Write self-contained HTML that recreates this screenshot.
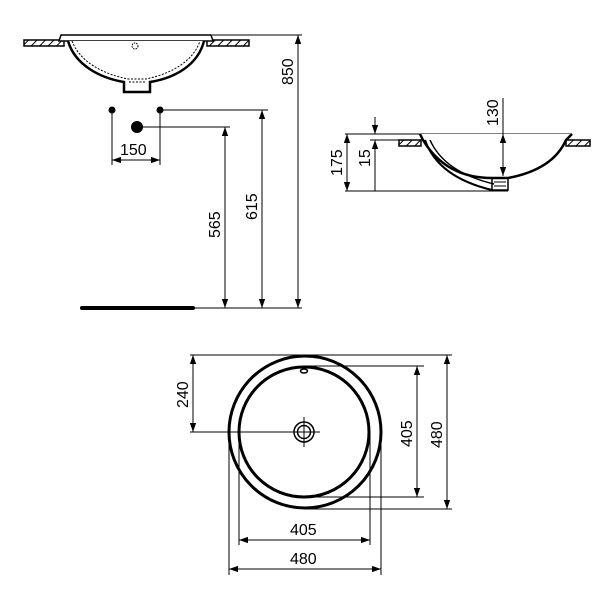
<!DOCTYPE html>
<html><head><style>body{margin:0;background:#fff}svg{display:block}text{font-family:"Liberation Sans",sans-serif;font-size:16px;fill:#000}</style></head><body>
<svg width="600" height="600" viewBox="0 0 600 600" xmlns="http://www.w3.org/2000/svg">
<defs>
<marker id="a" viewBox="0 0 10 10" refX="10" refY="5" markerWidth="9" markerHeight="9" orient="auto-start-reverse" markerUnits="userSpaceOnUse"><path d="M0,1.5 L10,5 L0,8.5z" fill="#000"/></marker>
<pattern id="h" width="6" height="6" patternUnits="userSpaceOnUse" patternTransform="rotate(45)"><rect width="6" height="6" fill="#fff"/><line x1="0" y1="0" x2="0" y2="6" stroke="#000" stroke-width="2"/></pattern>
</defs>
<g stroke="#000" fill="none" stroke-width="1">
<!-- top-left front view -->
<rect x="24" y="40" width="40" height="6" fill="url(#h)" stroke-width="1.5"/>
<rect x="207" y="40" width="42" height="6" fill="url(#h)" stroke-width="1.5"/>
<path d="M59,41 L61,35 L211,35 L213,41 Z" stroke-width="1.5" fill="#fff"/>
<path d="M68,41 C75,65 100,78 124,82 L124,92 L150,92 L150,82 C175,78 198,65 204,41" stroke-width="2.5" fill="#fff"/>
<path d="M72,41 C80,62 103,74 128,79 L146,79 C170,74 193,62 200,41" stroke-dasharray="2,1.5"/>
<line x1="129" y1="82" x2="145" y2="82" stroke-dasharray="2,1.5"/>
<circle cx="135" cy="46" r="3" stroke-dasharray="1.5,1"/>
<line x1="212" y1="35" x2="302" y2="35"/>
<line x1="298" y1="35" x2="298" y2="308" marker-start="url(#a)" marker-end="url(#a)"/>
<line x1="160" y1="110" x2="268" y2="110"/>
<line x1="137" y1="127" x2="230" y2="127"/>
<line x1="225" y1="127" x2="225" y2="308" marker-start="url(#a)" marker-end="url(#a)"/>
<line x1="262" y1="110" x2="262" y2="308" marker-start="url(#a)" marker-end="url(#a)"/>
<line x1="112" y1="110" x2="112" y2="165"/>
<line x1="160" y1="110" x2="160" y2="165"/>
<line x1="112" y1="160" x2="160" y2="160" marker-start="url(#a)" marker-end="url(#a)"/>
<line x1="193" y1="308" x2="302" y2="308"/>
<line x1="82" y1="308" x2="193" y2="308" stroke-width="4" stroke-linecap="round"/>
<!-- side view -->
<line x1="345" y1="134" x2="572" y2="134"/>
<line x1="345" y1="191" x2="508" y2="191"/>
<line x1="370" y1="140" x2="420" y2="140"/>
<rect x="399" y="140" width="22" height="6" fill="url(#h)" stroke-width="1.5"/>
<rect x="566" y="140" width="24" height="6" fill="url(#h)" stroke-width="1.5"/>
<path d="M420,134 L423,140 C435,160 455,178 492,178 L508,178 C540,172 558,158 566,140 L572,134" stroke-width="2.5" fill="#fff"/>
<path d="M425,140 C432,160 450,180 492,190" stroke-width="2"/>
<path d="M430,140 C438,158 456,175 494,184" stroke-width="1.5"/>
<rect x="492" y="178" width="16" height="12" stroke-width="1.5"/>
<line x1="494" y1="182" x2="506" y2="182"/><line x1="494" y1="186" x2="506" y2="186"/>
<line x1="347" y1="134" x2="347" y2="191" marker-start="url(#a)" marker-end="url(#a)"/>
<line x1="375" y1="117" x2="375" y2="134" marker-end="url(#a)"/>
<line x1="375" y1="191" x2="375" y2="140" marker-end="url(#a)"/>
<line x1="503" y1="98" x2="503" y2="134"/>
<line x1="503" y1="134" x2="503" y2="176" marker-start="url(#a)" marker-end="url(#a)"/>
<!-- plan view -->
<circle cx="305" cy="432" r="76" stroke-width="3"/>
<circle cx="304" cy="432" r="65" stroke-width="3"/>
<circle cx="304" cy="432" r="10" stroke-width="1.5"/>
<circle cx="304" cy="432" r="6.5" stroke-width="1.5"/>
<line x1="304" y1="417" x2="304" y2="447"/>
<ellipse cx="304" cy="371" rx="3.5" ry="2" stroke-width="1.5"/>
<line x1="190" y1="355" x2="452" y2="355"/>
<line x1="190" y1="432" x2="320" y2="432"/>
<line x1="193" y1="355" x2="193" y2="432" marker-start="url(#a)" marker-end="url(#a)"/>
<line x1="304" y1="366" x2="424" y2="366"/>
<line x1="304" y1="497" x2="424" y2="497"/>
<line x1="417" y1="366" x2="417" y2="497" marker-start="url(#a)" marker-end="url(#a)"/>
<line x1="305" y1="509" x2="452" y2="509"/>
<line x1="447" y1="355" x2="447" y2="509" marker-start="url(#a)" marker-end="url(#a)"/>
<line x1="239" y1="432" x2="239" y2="545"/>
<line x1="370" y1="432" x2="370" y2="545"/>
<line x1="229" y1="432" x2="229" y2="575"/>
<line x1="381" y1="432" x2="381" y2="575"/>
<line x1="239" y1="540" x2="370" y2="540" marker-start="url(#a)" marker-end="url(#a)"/>
<line x1="229" y1="569" x2="381" y2="569" marker-start="url(#a)" marker-end="url(#a)"/>
</g>
<circle cx="112" cy="110" r="3.5"/><circle cx="160" cy="110" r="3.5"/><circle cx="137" cy="127" r="6"/>
<text x="120" y="155">150</text>
<text transform="translate(220,238) rotate(-90)">565</text>
<text transform="translate(257,220) rotate(-90)">615</text>
<text transform="translate(293,85) rotate(-90)">850</text>
<text transform="translate(342,176) rotate(-90)">175</text>
<text transform="translate(370,167) rotate(-90)">15</text>
<text transform="translate(498,126) rotate(-90)">130</text>
<text transform="translate(188,408) rotate(-90)">240</text>
<text transform="translate(412,447) rotate(-90)">405</text>
<text transform="translate(442,448) rotate(-90)">480</text>
<text x="290" y="535">405</text>
<text x="290" y="564">480</text>
</svg>
</body></html>
